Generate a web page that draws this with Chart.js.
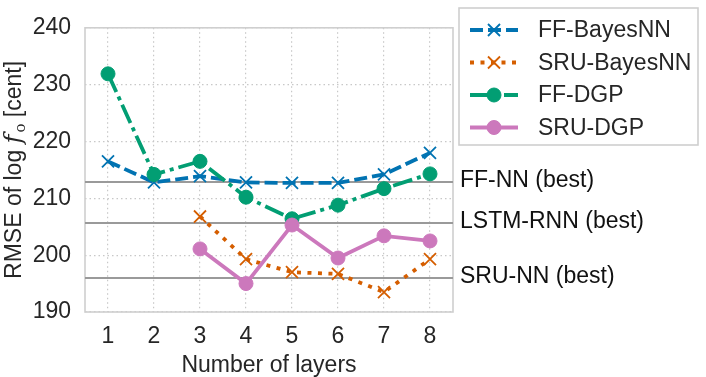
<!DOCTYPE html>
<html><head><meta charset="utf-8">
<script src="https://cdn.jsdelivr.net/npm/chart.js@4/dist/chart.umd.min.js"></script>
<style>html,body{margin:0;padding:0;background:#fff}#wrap{width:706px;height:377px}</style>
</head><body><div id="wrap"><canvas id="c" width="706" height="377"></canvas></div>
<script>
const layers = [1, 2, 3, 4, 5, 6, 7, 8];
const seriesNames = ['FF-BayesNN', 'SRU-BayesNN', 'FF-DGP', 'SRU-DGP'];
const ffBayesNN = [216.5, 212.8, 213.9, 212.8, 212.7, 212.7, 214.2, 218.0];
const sruBayesNN = [null, null, 206.8, 199.3, 197.0, 196.7, 193.5, 199.3];
const ffDGP = [231.9, 214.2, 216.5, 210.2, 206.4, 208.8, 211.7, 214.3];
const sruDGP = [null, null, 201.1, 195.0, 205.3, 199.5, 203.4, 202.5];
const baselineNames = ['FF-NN (best)', 'LSTM-RNN (best)', 'SRU-NN (best)'];
const baselineValues = [212.85, 205.65, 196.0];
const yTicks = [190, 200, 210, 220, 230, 240];
const xTitle = 'Number of layers';

const FONT = "'Liberation Sans', Arial, sans-serif";
const FS = 23;
const TXT = '#262626';

const styles = [
  {color: '#0173b2', dash: [13, 5], point: 'crossRot', r: 8.5, pbw: 1.8},
  {color: '#d55e00', dash: [4, 6.5], point: 'crossRot', r: 8.5, pbw: 1.8},
  {color: '#029e73', dash: [20, 5, 4, 5], point: 'circle', r: 7, pbw: 1},
  {color: '#cc78bc', dash: [], point: 'circle', r: 7, pbw: 1}
];
const seriesData = [ffBayesNN, sruBayesNN, ffDGP, sruDGP];

const datasets = seriesData.map((arr, i) => ({
  label: seriesNames[i],
  data: layers.map((x, j) => ({x: x, y: arr[j]})),
  borderColor: styles[i].color,
  backgroundColor: styles[i].color,
  borderWidth: 3.8,
  borderDash: styles[i].dash,
  pointStyle: styles[i].point,
  pointRadius: styles[i].r,
  pointBorderWidth: styles[i].pbw,
  pointBackgroundColor: styles[i].color,
  pointBorderColor: styles[i].color,
  tension: 0,
  order: 4 - i
}));
baselineValues.forEach((v, i) => {
  datasets.push({
    label: baselineNames[i],
    data: [{x: 0.5, y: v}, {x: 8.5, y: v}],
    borderColor: '#9a9a9a',
    borderWidth: 2,
    pointRadius: 0,
    order: 10
  });
});

const framePlugin = {
  id: 'frame',
  beforeDatasetsDraw(chart) {
    const {ctx, chartArea: a} = chart;
    ctx.save();
    ctx.strokeStyle = '#cfcfcf';
    ctx.lineWidth = 1.6;
    ctx.strokeRect(a.left, a.top, a.right - a.left, a.bottom - a.top);
    ctx.restore();
  },
  afterDraw(chart) {
    const {ctx, chartArea: a, scales} = chart;
    ctx.save();
    // x title
    ctx.fillStyle = TXT;
    ctx.font = FS + 'px ' + FONT;
    ctx.textAlign = 'center';
    ctx.textBaseline = 'alphabetic';
    ctx.fillText(xTitle, (a.left + a.right) / 2, 372);
    // y title
    ctx.save();
    ctx.translate(21, (a.top + a.bottom) / 2);
    ctx.rotate(-Math.PI / 2);
    const p1 = 'RMSE of log ', p2 = 'f', p3 = 'o', p4 = ' [cent]';
    const fNorm = FS + 'px ' + FONT;
    const fItal = 'italic ' + (FS + 1) + 'px "DejaVu Serif", serif';
    const fSub = '15px "DejaVu Serif", serif';
    ctx.font = fNorm; const w1 = ctx.measureText(p1).width, w4 = ctx.measureText(p4).width;
    ctx.font = fItal; const w2 = ctx.measureText(p2).width;
    ctx.font = fSub; const w3 = ctx.measureText(p3).width;
    const tot = w1 + w2 + 2 + w3 + w4;
    let x = -tot / 2;
    ctx.textAlign = 'left';
    ctx.font = fNorm; ctx.fillText(p1, x, 0); x += w1;
    ctx.font = fItal; ctx.fillText(p2, x, 0); x += w2 + 2;
    ctx.font = fSub; ctx.fillText(p3, x, 4); x += w3;
    ctx.font = fNorm; ctx.fillText(p4, x, 0);
    ctx.restore();
    // baseline labels
    ctx.font = FS + 'px ' + FONT;
    ctx.textAlign = 'left';
    ctx.textBaseline = 'middle';
    ctx.fillStyle = '#111';
    baselineValues.forEach((v, i) => {
      ctx.fillText(baselineNames[i], 460, scales.y.getPixelForValue(v) - 1);
    });
    // legend
    const lx = 459, ly = 8, lw = 239, lh = 137;
    ctx.fillStyle = '#fff';
    ctx.fillRect(lx, ly, lw, lh);
    ctx.strokeStyle = '#cfcfcf';
    ctx.lineWidth = 1.6;
    ctx.strokeRect(lx, ly, lw, lh);
    const rows = [30, 62.5, 95, 127.5];
    seriesNames.forEach((name, i) => {
      const s = styles[i];
      const y = rows[i];
      ctx.save();
      ctx.strokeStyle = s.color;
      ctx.lineWidth = 3.8;
      ctx.setLineDash(s.dash);
      ctx.beginPath();
      ctx.moveTo(470, y);
      ctx.lineTo(518, y);
      ctx.stroke();
      ctx.setLineDash([]);
      ctx.fillStyle = s.color;
      ctx.lineWidth = s.pbw;
      Chart.helpers.drawPoint(ctx, {pointStyle: s.point, radius: s.r, borderWidth: s.pbw, rotation: 0}, 494, y);
      ctx.restore();
      ctx.fillStyle = TXT;
      ctx.font = FS + 'px ' + FONT;
      ctx.textBaseline = 'middle';
      ctx.fillText(name, 538, y + 1);
    });
    ctx.restore();
  }
};

new Chart(document.getElementById('c'), {
  type: 'line',
  data: {datasets},
  options: {
    responsive: false,
    devicePixelRatio: 1,
    animation: false,
    layout: {padding: {top: 8, right: 253, left: 0, bottom: 0}},
    plugins: {legend: {display: false}, tooltip: {enabled: false}},
    scales: {
      x: {
        type: 'linear', min: 0.5, max: 8.5,
        afterBuildTicks: s => { s.ticks = layers.map(v => ({value: v})); },
        afterFit: s => { s.height = 65; },
        grid: {color: '#c8c8c8', lineWidth: 1.2, drawTicks: false},
        border: {display: false, dash: [1.5, 3]},
        ticks: {color: TXT, font: {size: FS, family: FONT}, padding: 11, maxRotation: 0,
          callback: v => String(v)}
      },
      y: {
        type: 'linear', min: 190, max: 240,
        afterBuildTicks: s => { s.ticks = yTicks.map(v => ({value: v})); },
        afterFit: s => { s.width = 85; },
        grid: {color: '#c8c8c8', lineWidth: 1.2, drawTicks: false},
        border: {display: false, dash: [1.5, 3]},
        ticks: {color: TXT, font: {size: FS, family: FONT}, padding: 14, callback: v => String(v)}
      }
    }
  },
  plugins: [framePlugin]
});
</script></body></html>
